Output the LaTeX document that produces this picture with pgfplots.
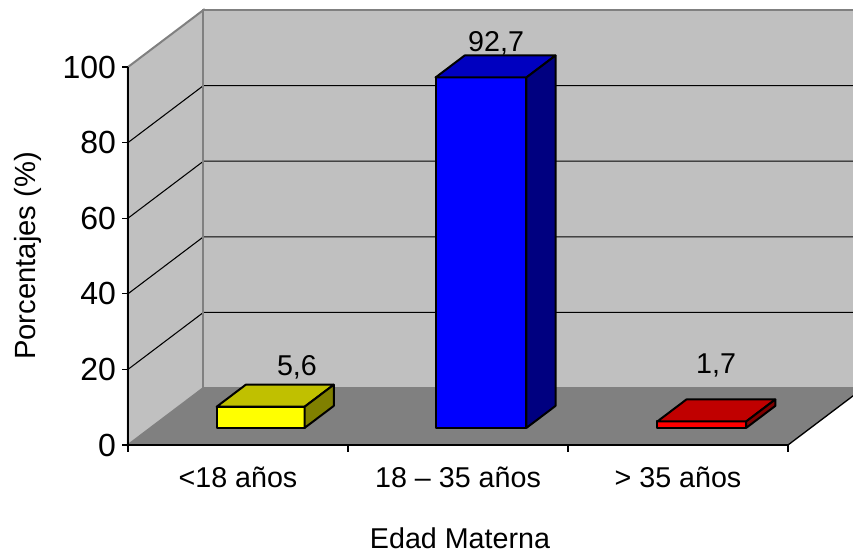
\documentclass[border=0pt]{standalone}
\usepackage{fontspec}
\setmainfont{Liberation Sans}
\usepackage{pgfplots}
\pgfplotsset{compat=1.18}

\definecolor{wall}{HTML}{C0C0C0}
\definecolor{floorc}{HTML}{808080}
\definecolor{yfront}{HTML}{FFFF00}
\definecolor{ytop}{HTML}{C0C000}
\definecolor{yside}{HTML}{808000}
\definecolor{bfront}{HTML}{0000FF}
\definecolor{btop}{HTML}{0000C0}
\definecolor{bside}{HTML}{000080}
\definecolor{rfront}{HTML}{FF0000}
\definecolor{rtop}{HTML}{C00000}
\definecolor{rside}{HTML}{800000}

% one 3D bar: x from, x to, value, front, top and side colours
\newcommand{\bartd}[6]{
  \addplot3[draw=black,line width=1.5pt,line join=round,fill=#4] coordinates {(#1,0.3,0) (#2,0.3,0) (#2,0.3,#3) (#1,0.3,#3)} -- cycle;
  \addplot3[draw=black,line width=1.5pt,line join=round,fill=#5] coordinates {(#1,0.3,#3) (#2,0.3,#3) (#2,0.686,#3) (#1,0.686,#3)} -- cycle;
  \addplot3[draw=black,line width=1.5pt,line join=round,fill=#6] coordinates {(#2,0.3,0) (#2,0.686,0) (#2,0.686,#3) (#2,0.3,#3)} -- cycle;
}

\begin{document}
\begin{tikzpicture}
\begin{axis}[
  x={(165pt,0pt)}, y={(56.6pt,42.75pt)}, z={(0pt,2.835pt)},
  xmin=0, xmax=3, ymin=0, ymax=1, zmin=0, zmax=100,
  clip=false,
  axis lines=left,
  axis on top,
  axis line style={-,black,line width=1pt},
  y axis line style={draw=none},
  major tick length=0pt,
  minor tick length=0pt,
  xtick={0.5,1.5,2.5},
  xticklabels={<18 años,18 -- 35 años,> 35 años},
  ytick=\empty,
  ztick={0,20,40,60,80,100},
  /pgf/number format/assume math mode=true,
  x tick label style={font=\fontsize{21.5}{24}\selectfont,anchor=center,yshift=-24pt},
  z tick label style={font=\fontsize{24}{26}\selectfont,anchor=east,xshift=-5.5pt},
  xlabel={Edad Materna},
  zlabel={Porcentajes (\%)},
  x label style={font=\fontsize{21.5}{24}\selectfont,at={(rel axis cs:0.5,0,0)},anchor=center,yshift=-70pt,xshift=1.5pt},
  z label style={font=\fontsize{21.9}{24}\selectfont,at={(rel axis cs:0,0,0.5)},anchor=center,rotate=0,yshift=75pt},
]
% walls and floor
\addplot3[draw=floorc,line width=1.5pt,fill=wall] coordinates {(0,0,0) (0,1,0) (0,1,100) (0,0,100)} -- cycle;
\addplot3[draw=floorc,line width=1.5pt,fill=wall] coordinates {(0,1,0) (3,1,0) (3,1,100) (0,1,100)} -- cycle;
\addplot3[draw=none,fill=floorc] coordinates {(0,0,0) (3,0,0) (3,1,0) (0,1,0)} -- cycle;
% gridlines
\addplot3[black,line width=0.8pt] coordinates {(0,0,20) (0,1,20) (3,1,20)};
\addplot3[black,line width=0.8pt] coordinates {(0,0,40) (0,1,40) (3,1,40)};
\addplot3[black,line width=0.8pt] coordinates {(0,0,60) (0,1,60) (3,1,60)};
\addplot3[black,line width=0.8pt] coordinates {(0,0,80) (0,1,80) (3,1,80)};
\addplot3[floorc,line width=1.5pt] coordinates {(0,1,0) (0,1,100)};
% floor right edge
\addplot3[black,line width=1pt] coordinates {(3,0,0) (3,1,0)};
% bars
\bartd{0.3}{0.7}{5.6}{yfront}{ytop}{yside}
\bartd{1.295}{1.708}{92.7}{bfront}{btop}{bside}
\bartd{2.303}{2.707}{1.7}{rfront}{rtop}{rside}
% value labels
\node[anchor=base,font=\fontsize{21.5}{24}\selectfont] at (axis cs:0.768,0,18.5) {5,6};
\node[anchor=base,font=\fontsize{21.5}{24}\selectfont] at (axis cs:1.673,0,104) {92,7};
\node[anchor=base,font=\fontsize{21.5}{24}\selectfont] at (axis cs:2.673,0,19) {1,7};
% ticks: horizontal on the left, vertical below
\pgfplotsinvokeforeach{0,20,40,60,80,100}{\draw[line width=1pt] (axis cs:0,0,#1) -- ++(-4.5pt,0);}
\pgfplotsinvokeforeach{0,1,2,3}{\draw[line width=1pt] (axis cs:#1,0,0) -- ++(0,-5pt);}
\coordinate (o) at (axis cs:0,0,0);
\end{axis}
\pgfresetboundingbox
\path[use as bounding box] (o) +(-96pt,-80.25pt) rectangle +(543.75pt,333.75pt);
\end{tikzpicture}
\end{document}
